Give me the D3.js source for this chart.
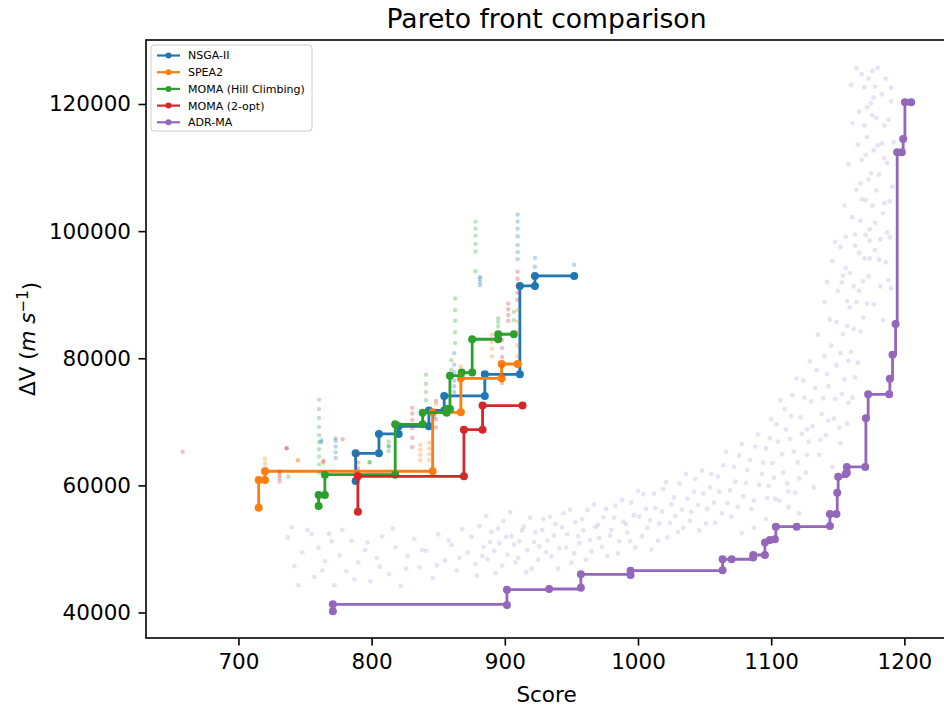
<!DOCTYPE html>
<html>
<head>
<meta charset="utf-8">
<script src="https://cdn.jsdelivr.net/npm/d3@7"></script>
<style>
  body { margin: 0; background: #fff; }
  svg { font-family: "DejaVu Sans", sans-serif; }
</style>
</head>
<body>
<div id="chart"></div>
<script>
// ---- data (score, delta-v) ----
const xTicks = [700, 800, 900, 1000, 1100, 1200];
const yTicks = [40000, 60000, 80000, 100000, 120000];

const methods = ["NSGA-II", "SPEA2", "MOMA (Hill Climbing)", "MOMA (2-opt)", "ADR-MA"];
const colors = ["#1f77b4", "#ff7f0e", "#2ca02c", "#d62728", "#9467bd"];

// pareto fronts
const nsgaFront = [
  [788, 60690], [788, 65050], [805.5, 65050], [805.5, 68090], [820.3, 68090],
  [820.3, 69300], [843, 69300], [843, 71800], [854.5, 71800], [854.5, 74070],
  [885, 74070], [885, 77480], [911.3, 77480], [911.3, 91380], [922.6, 91380],
  [922.6, 92950], [952.1, 92950]
];
const speaFront = [
  [715.2, 56490], [715.2, 60850], [719.9, 60850], [719.9, 62220], [845.8, 62220],
  [845.8, 71500], [867, 71500], [867, 76850], [897.6, 76850], [897.6, 79100],
  [909.6, 79100]
];
const momaHcFront = [
  [760.2, 56760], [760.2, 58490], [764.9, 58490], [764.9, 61690], [817.7, 61690],
  [817.7, 69610], [838.3, 69610], [838.3, 71440], [856.3, 71440], [856.3, 72000],
  [858.8, 72000], [858.8, 77260], [867.6, 77740], [875.5, 77740], [875.5, 82990],
  [895, 82990], [895, 83780], [906.8, 83780]
];
const moma2optFront = [
  [789.7, 55840], [789.7, 61430], [869.3, 61430], [869.3, 68770], [883.3, 68770],
  [883.3, 72550], [913.3, 72550]
];
const adrFront = [
  [770.9, 40190], [770.9, 41290], [901.6, 41180], [901.6, 43590], [933.3, 43700],
  [957.1, 43900], [957.1, 46010], [994.4, 45900], [994.4, 46580], [1063.5, 46640],
  [1063.5, 48370], [1070.3, 48380], [1086.5, 48650], [1086.5, 49050], [1095.3, 49050],
  [1095.3, 51000], [1099, 51410], [1102.8, 51520], [1103.5, 53500], [1119.1, 53500],
  [1144.1, 53600], [1144.1, 55500], [1149, 55500], [1149.6, 58850], [1150.3, 61370],
  [1155.9, 61800], [1156.8, 62000], [1156.8, 62900], [1170.6, 62900], [1171.1, 70560],
  [1172.8, 74330], [1188.6, 74330], [1189.1, 76790], [1191.1, 80570], [1193.4, 85400],
  [1194.6, 112420], [1198.1, 112420], [1199.1, 114500], [1200.4, 120280], [1205.1, 120280]
];

// populations (faint points)
const nsgaPop = [
  [762.2, 66800], [762.2, 67100], [773, 64300], [773, 65200], [773, 66100], [773, 67000],
  [773, 67400], [862, 74700], [862, 75600], [862, 76500], [862, 77800], [862, 79000],
  [862, 80800], [881.3, 91500], [881.3, 92000], [881.3, 92500], [881.3, 92800],
  [909.6, 95600], [909.6, 96700], [909.6, 97800], [909.6, 99200], [909.6, 100400],
  [909.6, 101500], [909.6, 102600], [922.6, 94400], [922.6, 95800], [952.1, 94700],
  [812.8, 66200], [847, 70800]
];
const speaPop = [
  [719.9, 62800], [719.9, 63500], [719.9, 64200], [744.7, 63950], [744.7, 63950],
  [836.5, 64000], [836.5, 64800], [836.5, 65600], [836.5, 66400], [843.2, 64000],
  [843.2, 64900], [843.2, 65800], [843.2, 66700], [866.8, 76000], [866.8, 77500],
  [866.8, 78700], [890.3, 80300], [890.3, 81500], [890.3, 82600], [890.3, 83700],
  [909.6, 80300], [909.6, 82000], [909.6, 84100], [909.6, 85800], [909.6, 87600],
  [848.3, 72800]
];
const momaHcPop = [
  [737.4, 61370], [760.5, 62000], [760.5, 63300], [760.5, 64500], [760.5, 65700],
  [760.5, 66800], [760.5, 67900], [760.5, 69200], [760.5, 70600], [760.5, 72000],
  [760.5, 73500], [798.5, 63640], [798.5, 63640], [812.8, 65400], [812.8, 66100],
  [812.8, 66900], [840.8, 73400], [840.8, 74700], [840.8, 76000], [840.8, 77400],
  [859.8, 78200], [859.8, 79700], [862.7, 82400], [862.7, 84100], [862.7, 85900],
  [862.7, 87600], [862.7, 89400], [878, 93700], [878, 96800], [878, 98000],
  [878, 99300], [878, 100400], [878, 101500], [895, 85000], [895, 85700],
  [895, 86300], [906.8, 86000], [906.8, 87300]
];
const moma2optPop = [
  [658.1, 65300], [736.2, 65840], [736.2, 65840], [730.9, 60600], [730.9, 61200],
  [730.9, 61700], [730.9, 62150], [763.7, 63600], [763.7, 63900], [778.2, 67250],
  [789.7, 61900], [789.7, 62700], [789.7, 63600], [789.7, 64800], [830.5, 66000],
  [830.5, 67500], [830.5, 69000], [830.5, 70300], [830.5, 71300], [830.5, 72200],
  [848.3, 69100], [848.3, 70400], [848.3, 71700], [848.3, 73300], [898, 76100],
  [898, 77400], [898, 78800], [898, 80200], [898, 81600], [898, 82900],
  [902.6, 85900], [902.6, 86800], [902.6, 87700], [902.6, 88600], [909.6, 89200],
  [909.6, 90300], [909.6, 91400], [909.6, 92500], [909.6, 93600]
];
const adrPop = [
  [737, 51800], [742, 47300], [748, 49500], [752, 53000], [757, 45600], [760, 50200],
  [765, 48100], [768, 52400], [772, 44300], [776, 49000], [781, 46500], [785, 51300],
  [790, 47900], [795, 49800], [799, 44900],
  [804, 48600], [808, 52000], [813, 46000], [818, 50300], [822, 44200], [827, 48900],
  [832, 51600], [836, 47100], [841, 49700], [846, 45400], [850, 52300], [855, 48200],
  [860, 50600], [864, 46600], [868, 53100],
  [745, 44300], [755, 52300], [763, 46600], [770, 51200], [778, 53000], [787, 45200],
  [797, 51000], [806, 47200], [816, 53200], [826, 46900], [838, 49800], [849, 47400],
  [858, 51300], [866, 48600], [740, 53400],
  [872, 49400], [875, 51900], [878, 47600], [881, 53600], [884, 50300], [887, 48400],
  [890, 52700], [893, 46200], [896, 50900], [899, 54400], [902, 49100], [905, 52000],
  [908, 47900], [911, 51200], [914, 53500], [917, 49800], [920, 46900], [923, 52600],
  [926, 50400], [929, 54700],
  [879, 45800], [883, 48900], [886, 55200], [889, 51100], [892, 49700], [895, 53200],
  [898, 47400], [901, 51900], [904, 55800], [907, 50700], [910, 48600], [913, 52900],
  [916, 46300], [919, 54900], [922, 51100], [925, 48300], [928, 53000], [931, 49500],
  [934, 55100], [937, 52100], [940, 46900], [943, 53400], [946, 50200], [949, 56200],
  [952, 49300], [955, 52000], [958, 54700], [961, 48300], [964, 51400], [967, 57000],
  [932, 51300], [935, 48800], [938, 53900], [941, 50100], [944, 55600], [947, 52300],
  [950, 47800], [953, 54200], [956, 50900], [959, 52900], [962, 56100], [965, 49600],
  [968, 53400], [971, 51700], [974, 55000], [977, 48900], [980, 53000], [983, 56800],
  [986, 51200], [989, 54300],
  [970, 53800], [973, 50300], [976, 56300], [979, 52100], [982, 54900], [985, 49300],
  [988, 57700], [991, 53900], [994, 51200], [997, 55300], [1000, 59100], [1003, 52000],
  [1006, 56300], [1009, 54500], [1012, 58700], [1015, 51300], [1018, 55900], [1021, 60500],
  [1024, 54100], [1027, 58100], [1030, 52700], [1033, 56200], [1036, 61800], [1039, 54400],
  [1042, 59000], [1045, 56900], [1048, 62300], [1051, 54000], [1054, 59700], [1057, 57300],
  [992, 52600], [995, 57300], [998, 50200], [1001, 55100], [1004, 58600], [1007, 53300],
  [1010, 49900], [1013, 56400], [1016, 54000], [1019, 59400], [1022, 51800], [1025, 57000],
  [1028, 55200], [1031, 60300], [1034, 53300], [1037, 57900], [1040, 55800], [1043, 61000],
  [1046, 52900], [1049, 58700],
  [1052, 56300], [1055, 61800], [1058, 54100], [1061, 59000], [1064, 63200], [1067, 57200],
  [1070, 55100], [1073, 60600], [1076, 64700], [1079, 58300], [1082, 62400], [1085, 56300],
  [1088, 66100], [1091, 60100], [1094, 63600], [1097, 58000], [1099, 67400], [1096, 54700],
  [1087, 53300], [1078, 52500],
  [1060, 61400], [1063, 55600], [1066, 65300], [1069, 59200], [1072, 62900], [1075, 56600],
  [1078, 66500], [1081, 60400], [1084, 64000], [1087, 57600], [1090, 68000], [1093, 61800],
  [1096, 65800], [1098, 59900], [1100, 70400], [1101, 63500], [1103, 57900], [1105, 66900],
  [1107, 73400], [1109, 62000], [1111, 68800], [1113, 59000], [1115, 70900], [1117, 65300],
  [1119, 76800], [1121, 61100], [1123, 68100], [1125, 73800], [1127, 64800], [1129, 79500],
  [1102, 61200], [1104, 69600], [1106, 57600], [1108, 64900], [1110, 72000], [1112, 60300],
  [1114, 67300], [1116, 74200], [1118, 58800], [1120, 63600], [1122, 70700], [1124, 76500],
  [1126, 62000], [1128, 66900], [1130, 73200], [1132, 59700], [1134, 78100], [1121, 55600],
  [1113, 56600], [1127, 68800],
  [1131, 69300], [1133, 75300], [1135, 83700], [1137, 67200], [1139, 73700], [1140, 88800],
  [1142, 77500], [1143, 70200], [1145, 82000], [1146, 95300], [1148, 73600], [1149, 85700],
  [1151, 69100], [1152, 80800], [1153, 91900], [1155, 76700], [1156, 99100], [1157, 85100],
  [1158, 73000], [1159, 93400],
  [1136, 64800], [1138, 71200], [1140, 80300], [1141, 67900], [1143, 75600], [1144, 86100],
  [1146, 62900], [1147, 70500], [1149, 78900], [1150, 90600], [1152, 66600], [1153, 74400],
  [1154, 83800], [1156, 94200], [1157, 69700], [1158, 79600], [1159, 88000], [1155, 61900],
  [1142, 92000], [1148, 98300],
  [1160, 81000], [1161, 102200], [1162, 91300], [1163, 77000], [1164, 88800], [1165, 113600],
  [1166, 96600], [1167, 84200], [1168, 105000], [1169, 92100], [1170, 116600], [1171, 99400],
  [1172, 88600], [1173, 108100], [1174, 95700], [1175, 120100], [1176, 104000], [1177, 112700],
  [1178, 101300], [1179, 117800], [1181, 108900], [1183, 113800], [1185, 104400], [1187, 99800],
  [1182, 91300], [1178, 122700], [1172, 119500],
  [1161, 73800], [1162, 84600], [1163, 97700], [1164, 106500], [1165, 79300], [1166, 90600],
  [1167, 101600], [1168, 111200], [1169, 86400], [1170, 95700], [1171, 104900], [1172, 114800],
  [1173, 92900], [1174, 100300], [1175, 109100], [1176, 118200], [1178, 97000], [1179, 106400],
  [1180, 113500], [1177, 88500],
  [1152, 97500], [1155, 104000], [1158, 110500], [1161, 117000], [1160, 123000], [1164, 125600],
  [1168, 124700], [1186, 124000], [1190, 122600], [1192, 114000], [1191, 107000], [1189, 99000],
  [1190, 91000], [1184, 86000], [1157, 89000], [1154, 93000], [1163, 99500], [1167, 107500],
  [1171, 112000], [1174, 98500], [1181, 95500], [1185, 111500], [1188, 117500], [1177, 121000],
  [1166, 118800], [1170, 122600], [1173, 124000], [1176, 125200], [1180, 125700], [1183, 121500],
  [1185, 116600], [1187, 110700], [1189, 104700], [1190, 120400], [1184, 102800], [1182, 98700],
  [1186, 95100], [1188, 92300]
];

const fronts = [nsgaFront, speaFront, momaHcFront, moma2optFront, adrFront];
const pops = [nsgaPop, speaPop, momaHcPop, moma2optPop, adrPop];

// ---- layout ----
const width = 944, height = 710;
const plot = { left: 146, top: 40, right: 947, bottom: 638 };
const tickFont = "21.5px";

const svg = d3.select("#chart").append("svg")
  .attr("width", width)
  .attr("height", height);

svg.append("rect").attr("width", width).attr("height", height).attr("fill", "#fff");

const x = d3.scaleLinear().domain([630.6, 1232]).range([plot.left, plot.right]);
const y = d3.scaleLinear().domain([35990, 130070]).range([plot.bottom, plot.top]);

svg.append("clipPath").attr("id", "clip")
  .append("rect")
  .attr("x", plot.left).attr("y", plot.top)
  .attr("width", plot.right - plot.left).attr("height", plot.bottom - plot.top);

const body = svg.append("g").attr("clip-path", "url(#clip)");

// step lines with markers
const line = d3.line()
  .x(d => x(d[0]))
  .y(d => y(d[1]))
  .curve(d3.curveStepAfter);

fronts.forEach(function (pts, i) {
  body.append("path")
    .datum(pts)
    .attr("d", line)
    .attr("fill", "none")
    .attr("stroke", colors[i])
    .attr("stroke-width", 2.8);

  body.append("g")
    .selectAll("circle")
    .data(pts)
    .join("circle")
    .attr("cx", d => x(d[0]))
    .attr("cy", d => y(d[1]))
    .attr("r", 4)
    .attr("fill", colors[i]);
});

// faint populations on top
pops.forEach(function (pts, i) {
  body.append("g")
    .selectAll("circle")
    .data(pts)
    .join("circle")
    .attr("cx", d => x(d[0]))
    .attr("cy", d => y(d[1]))
    .attr("r", i === 4 ? 2.4 : 2.2)
    .attr("fill", colors[i])
    .attr("fill-opacity", i === 4 ? 0.2 : 0.3);
});

// axes
const xAxis = svg.append("g")
  .attr("transform", `translate(0,${plot.bottom})`)
  .call(d3.axisBottom(x).tickValues(xTicks).tickFormat(d3.format("d")).tickSize(7.5).tickPadding(8));
const yAxis = svg.append("g")
  .attr("transform", `translate(${plot.left},0)`)
  .call(d3.axisLeft(y).tickValues(yTicks).tickFormat(d3.format("d")).tickSize(7.5).tickPadding(7.5));

[xAxis, yAxis].forEach(function (g) {
  g.select(".domain").remove();
  g.selectAll(".tick line").attr("stroke", "#000").attr("stroke-width", 1.6);
  g.selectAll(".tick text")
    .attr("fill", "#000")
    .style("font-size", tickFont)
    .style("font-family", "DejaVu Sans");
});

// frame
svg.append("rect")
  .attr("x", plot.left).attr("y", plot.top)
  .attr("width", plot.right - plot.left).attr("height", plot.bottom - plot.top)
  .attr("fill", "none")
  .attr("stroke", "#000")
  .attr("stroke-width", 1.6);

// title and labels
svg.append("text")
  .attr("x", (plot.left + plot.right) / 2)
  .attr("y", 28)
  .attr("text-anchor", "middle")
  .style("font-size", "26.6px")
  .text("Pareto front comparison");

svg.append("text")
  .attr("x", (plot.left + plot.right) / 2)
  .attr("y", 702)
  .attr("text-anchor", "middle")
  .style("font-size", tickFont)
  .text("Score");

const yLabel = svg.append("text")
  .attr("transform", `translate(35,${(plot.top + plot.bottom) / 2}) rotate(-90)`)
  .attr("text-anchor", "middle")
  .style("font-size", tickFont);
yLabel.append("tspan").text("ΔV (");
yLabel.append("tspan").style("font-style", "italic").text("m");
yLabel.append("tspan").text(" ");
yLabel.append("tspan").style("font-style", "italic").text("s");
yLabel.append("tspan").attr("dy", "-0.45em").style("font-size", "15px").text("−1");
yLabel.append("tspan").attr("dy", "0.45em").text(")");

// legend
const legend = svg.append("g").attr("transform", "translate(151,45)");
legend.append("rect")
  .attr("width", 161).attr("height", 86).attr("rx", 3)
  .attr("fill", "#fff").attr("fill-opacity", 0.8)
  .attr("stroke", "#ccc").attr("stroke-width", 1);

methods.forEach(function (name, i) {
  const row = legend.append("g").attr("transform", `translate(0,${10.5 + i * 16.7})`);
  row.append("line")
    .attr("x1", 6).attr("x2", 29)
    .attr("stroke", colors[i]).attr("stroke-width", 2.2);
  row.append("circle")
    .attr("cx", 17.5).attr("r", 3)
    .attr("fill", colors[i]);
  row.append("text")
    .attr("x", 37).attr("dy", "0.36em")
    .style("font-size", "11px")
    .text(name);
});
</script>
</body>
</html>
